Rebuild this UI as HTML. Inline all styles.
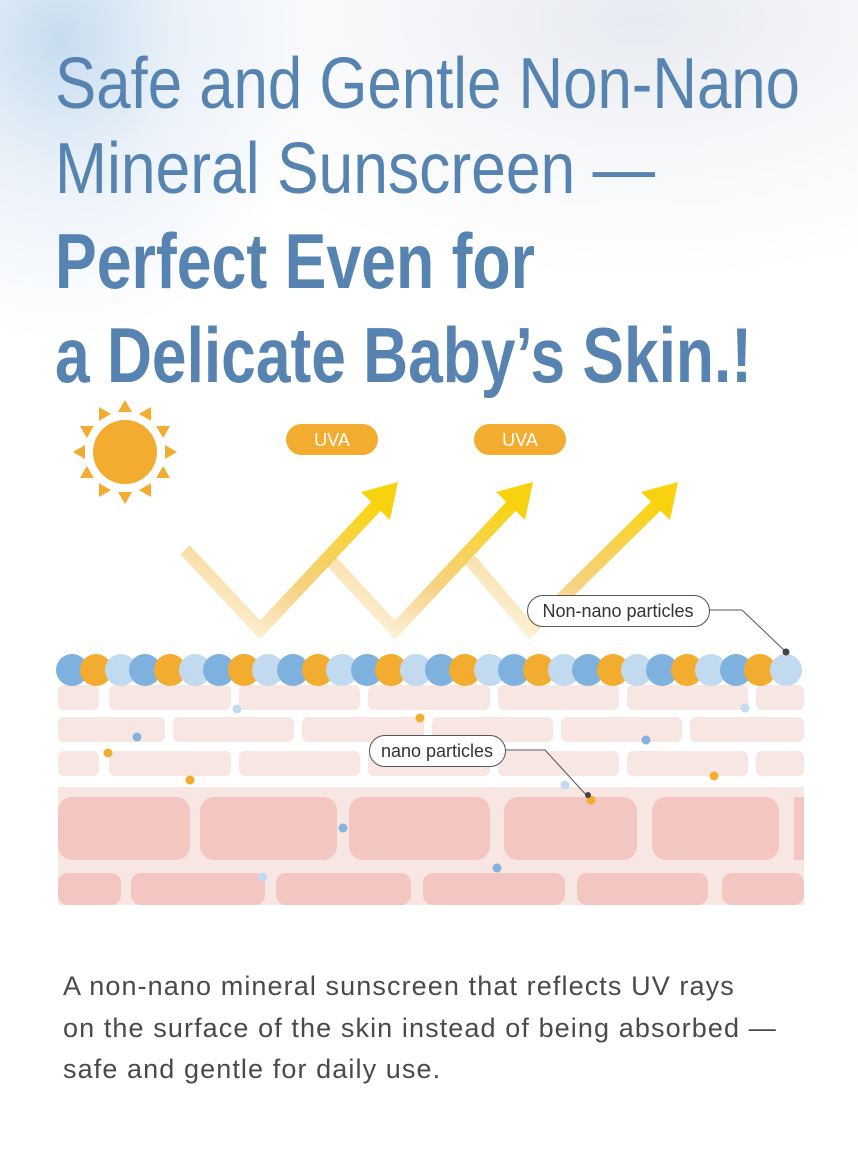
<!DOCTYPE html>
<html><head><meta charset="utf-8"><style>
html,body{margin:0;padding:0;background:#fff}
body{width:858px;height:1154px;position:relative;overflow:hidden;font-family:"Liberation Sans",sans-serif}
.bg{position:absolute;left:0;top:0;width:858px;height:420px;
background:radial-gradient(ellipse 260px 300px at 60px 40px,#c7dcf0 0%,rgba(220,232,245,0.6) 45%,rgba(255,255,255,0) 100%),
radial-gradient(ellipse 500px 260px at 640px 20px,#e7eaf0 0%,rgba(240,242,246,0.6) 50%,rgba(255,255,255,0) 100%);}
.txt{position:absolute;left:63px;top:966px;font-size:27px;line-height:41.5px;color:#4a4a4a;letter-spacing:1.1px;white-space:nowrap}
</style></head><body>
<div class="bg"></div>
<svg width="858" height="1154" style="position:absolute;left:0;top:0">
<defs>
<linearGradient id="g1" x1="0" y1="1" x2="1" y2="0">
<stop offset="0" stop-color="#f3c86a" stop-opacity="0.05"/>
<stop offset="0.45" stop-color="#f3c35a" stop-opacity="0.75"/>
<stop offset="1" stop-color="#f9d50a"/>
</linearGradient>
</defs>
<g fill="#5683b0" font-family="'Liberation Sans Narrow','Liberation Sans',sans-serif">
<text x="55" y="108" font-size="72" textLength="745" lengthAdjust="spacingAndGlyphs">Safe and Gentle Non-Nano</text>
<text x="55" y="193" font-size="72" textLength="600" lengthAdjust="spacingAndGlyphs">Mineral Sunscreen —</text>
<text x="55" y="288" font-size="78" font-weight="bold" textLength="480" lengthAdjust="spacingAndGlyphs">Perfect Even for</text>
<text x="55" y="382" font-size="78" font-weight="bold" textLength="697" lengthAdjust="spacingAndGlyphs">a Delicate Baby’s Skin.!</text>
</g>
<g fill="#f2ac2f">
<circle cx="125" cy="452" r="32"/>
<g id="ray"><polygon points="125,400 118,412 132,412"/></g>
<use href="#ray" transform="rotate(30 125 452)"/><use href="#ray" transform="rotate(60 125 452)"/>
<use href="#ray" transform="rotate(90 125 452)"/><use href="#ray" transform="rotate(120 125 452)"/>
<use href="#ray" transform="rotate(150 125 452)"/><use href="#ray" transform="rotate(180 125 452)"/>
<use href="#ray" transform="rotate(210 125 452)"/><use href="#ray" transform="rotate(240 125 452)"/>
<use href="#ray" transform="rotate(270 125 452)"/><use href="#ray" transform="rotate(300 125 452)"/>
<use href="#ray" transform="rotate(330 125 452)"/>
</g>
<rect x="286" y="424" width="92" height="31" rx="15.5" fill="#f2ac2f"/>
<text x="332" y="446" font-size="18" fill="#fff" text-anchor="middle">UVA</text>
<rect x="474" y="424" width="92" height="31" rx="15.5" fill="#f2ac2f"/>
<text x="520" y="446" font-size="18" fill="#fff" text-anchor="middle">UVA</text>
<g fill="none" stroke="url(#g1)" stroke-width="13" stroke-linejoin="miter">
<polyline points="185,550 260,630 380,502"/>
<polyline points="330,560 395,630 515,502"/>
<polyline points="470,560 530,630 660,502"/>
</g>
<g fill="#f8d20f">
<polygon points="398,482 390,520 361,492"/>
<polygon points="533,482 525,520 496,492"/>
<polygon points="678,482 670,520 641,492"/>
</g>
<g fill="#f7e6e2">
<rect x="58" y="685" width="41" height="25" rx="6"/><rect x="109" y="685" width="122" height="25" rx="6"/><rect x="239" y="685" width="121" height="25" rx="6"/><rect x="368" y="685" width="122" height="25" rx="6"/><rect x="498" y="685" width="121" height="25" rx="6"/><rect x="627" y="685" width="121" height="25" rx="6"/><rect x="756" y="685" width="48" height="25" rx="6"/>
<rect x="58" y="717" width="107" height="25" rx="6"/><rect x="173" y="717" width="121" height="25" rx="6"/><rect x="302" y="717" width="122" height="25" rx="6"/><rect x="432" y="717" width="121" height="25" rx="6"/><rect x="561" y="717" width="121" height="25" rx="6"/><rect x="690" y="717" width="114" height="25" rx="6"/>
<rect x="58" y="751" width="41" height="25" rx="6"/><rect x="109" y="751" width="122" height="25" rx="6"/><rect x="239" y="751" width="121" height="25" rx="6"/><rect x="368" y="751" width="122" height="25" rx="6"/><rect x="498" y="751" width="121" height="25" rx="6"/><rect x="627" y="751" width="121" height="25" rx="6"/><rect x="756" y="751" width="48" height="25" rx="6"/>
<rect x="58" y="787" width="746" height="118"/>
</g>
<g fill="#f3c6c1">
<rect x="58" y="797" width="132" height="63" rx="14"/><rect x="200" y="797" width="137" height="63" rx="14"/><rect x="349" y="797" width="141" height="63" rx="14"/><rect x="504" y="797" width="133" height="63" rx="14"/><rect x="652" y="797" width="127" height="63" rx="14"/><rect x="794" y="797" width="10" height="63"/>
<rect x="58" y="873" width="63" height="32" rx="10"/><rect x="131" y="873" width="134" height="32" rx="10"/><rect x="276" y="873" width="135" height="32" rx="10"/><rect x="423" y="873" width="142" height="32" rx="10"/><rect x="577" y="873" width="131" height="32" rx="10"/><rect x="722" y="873" width="82" height="32" rx="10"/>
</g>
<g>
<circle cx="237" cy="709" r="4.5" fill="#c2daf0"/><circle cx="420" cy="718" r="4.5" fill="#f2ac2f"/><circle cx="137" cy="737" r="4.5" fill="#85b3de"/>
<circle cx="108" cy="753" r="4.5" fill="#f2ac2f"/><circle cx="190" cy="780" r="4.5" fill="#f2ac2f"/><circle cx="343" cy="828" r="4.5" fill="#85b3de"/>
<circle cx="263" cy="877" r="4.5" fill="#c2daf0"/><circle cx="497" cy="868" r="4.5" fill="#85b3de"/><circle cx="646" cy="740" r="4.5" fill="#85b3de"/>
<circle cx="714" cy="776" r="4.5" fill="#f2ac2f"/><circle cx="745" cy="708" r="4.5" fill="#c2daf0"/><circle cx="565" cy="785" r="4.5" fill="#c2daf0"/><circle cx="591" cy="800" r="4.5" fill="#f2ac2f"/>
</g>
<g>
<circle cx="72" cy="670" r="16" fill="#7fb1de"/><circle cx="96" cy="670" r="16" fill="#f2ac2f"/><circle cx="121" cy="670" r="16" fill="#c2daf0"/>
<circle cx="145" cy="670" r="16" fill="#7fb1de"/><circle cx="170" cy="670" r="16" fill="#f2ac2f"/><circle cx="195" cy="670" r="16" fill="#c2daf0"/>
<circle cx="219" cy="670" r="16" fill="#7fb1de"/><circle cx="244" cy="670" r="16" fill="#f2ac2f"/><circle cx="268" cy="670" r="16" fill="#c2daf0"/>
<circle cx="293" cy="670" r="16" fill="#7fb1de"/><circle cx="318" cy="670" r="16" fill="#f2ac2f"/><circle cx="342" cy="670" r="16" fill="#c2daf0"/>
<circle cx="367" cy="670" r="16" fill="#7fb1de"/><circle cx="391" cy="670" r="16" fill="#f2ac2f"/><circle cx="416" cy="670" r="16" fill="#c2daf0"/>
<circle cx="441" cy="670" r="16" fill="#7fb1de"/><circle cx="465" cy="670" r="16" fill="#f2ac2f"/><circle cx="490" cy="670" r="16" fill="#c2daf0"/>
<circle cx="514" cy="670" r="16" fill="#7fb1de"/><circle cx="539" cy="670" r="16" fill="#f2ac2f"/><circle cx="564" cy="670" r="16" fill="#c2daf0"/>
<circle cx="588" cy="670" r="16" fill="#7fb1de"/><circle cx="613" cy="670" r="16" fill="#f2ac2f"/><circle cx="637" cy="670" r="16" fill="#c2daf0"/>
<circle cx="662" cy="670" r="16" fill="#7fb1de"/><circle cx="687" cy="670" r="16" fill="#f2ac2f"/><circle cx="711" cy="670" r="16" fill="#c2daf0"/>
<circle cx="736" cy="670" r="16" fill="#7fb1de"/><circle cx="760" cy="670" r="16" fill="#f2ac2f"/><circle cx="786" cy="670" r="16" fill="#c2daf0"/>
</g>
<polyline points="709,610 742,610 786,652" fill="none" stroke="#555" stroke-width="1"/>
<circle cx="786" cy="652" r="3.5" fill="#444"/>
<rect x="527.5" y="595.5" width="182" height="31" rx="15.5" fill="#fff" stroke="#555"/>
<text x="618" y="617" font-size="18" fill="#333" text-anchor="middle">Non-nano particles</text>
<polyline points="505,750 545,750 588,797" fill="none" stroke="#555" stroke-width="1"/>
<circle cx="588" cy="795" r="3" fill="#444"/>
<rect x="369.5" y="735.5" width="136" height="31" rx="15.5" fill="#fff" stroke="#555"/>
<text x="437" y="757" font-size="18" fill="#333" text-anchor="middle">nano particles</text>
</svg>
<div class="txt">A non-nano mineral sunscreen that reflects UV rays<br>on the surface of the skin instead of being absorbed —<br>safe and gentle for daily use.</div>
</body></html>
